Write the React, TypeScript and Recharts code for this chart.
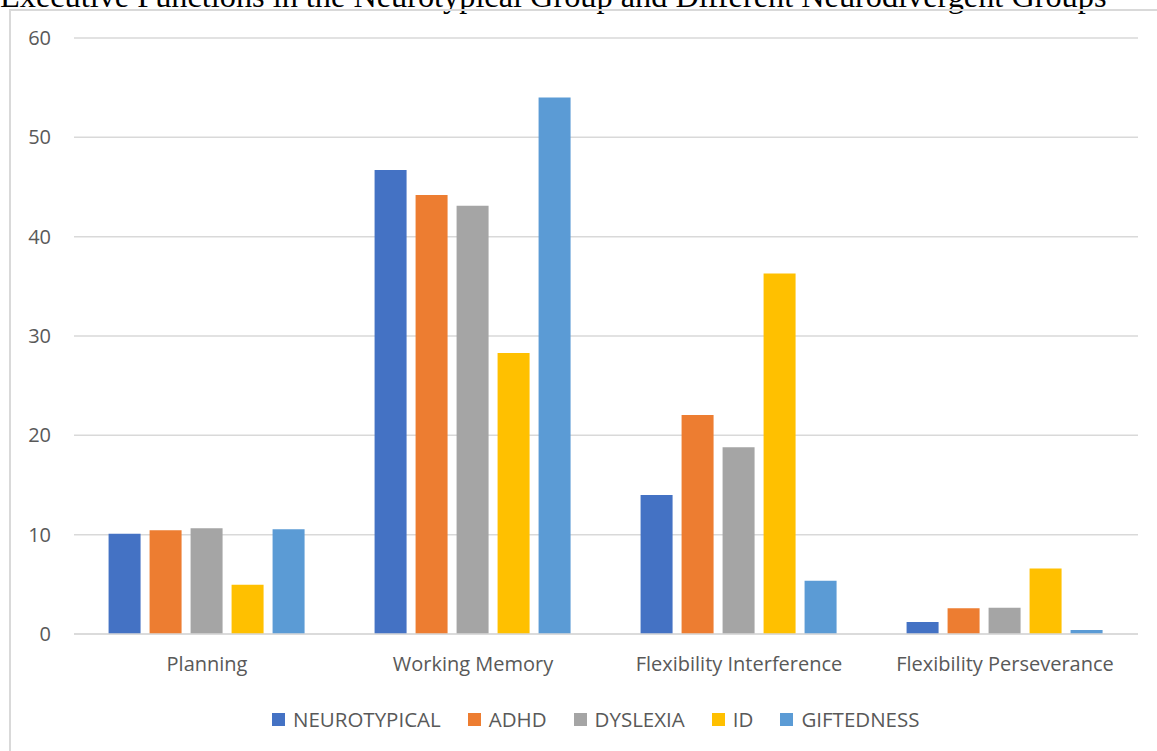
import React from 'react';
import { BarChart, Bar, XAxis, YAxis, CartesianGrid, Legend } from 'recharts';

const title = 'Executive Functions in the Neurotypical Group and Different Neurodivergent Groups';

const categories = ['Planning', 'Working Memory', 'Flexibility Interference', 'Flexibility Perseverance'];

const neurotypical = [10.1, 46.7, 14.0, 1.2];
const adhd = [10.45, 44.2, 22.05, 2.6];
const dyslexia = [10.65, 43.1, 18.8, 2.65];
const id = [4.95, 28.3, 36.3, 6.6];
const giftedness = [10.55, 54.0, 5.35, 0.4];

const yTicks = [0, 10, 20, 30, 40, 50, 60];

const series = [
  { key: 'NEUROTYPICAL', values: neurotypical, color: '#4472C4' },
  { key: 'ADHD', values: adhd, color: '#ED7D31' },
  { key: 'DYSLEXIA', values: dyslexia, color: '#A5A5A5' },
  { key: 'ID', values: id, color: '#FFC000' },
  { key: 'GIFTEDNESS', values: giftedness, color: '#5B9BD5' },
];

const data = categories.map((name, i) => {
  const row: Record<string, string | number> = { name };
  series.forEach((s) => {
    row[s.key] = s.values[i];
  });
  return row;
});

const textColor = '#595959';
const gridColor = '#D9D9D9';
const font = '"Open Sans", "Noto Sans", sans-serif';

const LegendContent = () => (
  <div
    style={{
      display: 'flex',
      alignItems: 'center',
      height: 30,
      paddingLeft: 262,
      fontFamily: font,
      fontSize: 20.5,
      color: textColor,
    }}
  >
    {series.map((s) => (
      <div key={s.key} style={{ display: 'flex', alignItems: 'center', marginRight: 27 }}>
        <span style={{ width: 13, height: 13, background: s.color, marginRight: 8, display: 'inline-block' }} />
        <span>{s.key}</span>
      </div>
    ))}
  </div>
);

export default function App() {
  return (
    <div
      style={{
        position: 'fixed',
        left: 0,
        top: 0,
        width: 1157,
        height: 751,
        overflow: 'hidden',
        background: '#fff',
      }}
    >
      <svg width={1157} height={20} style={{ position: 'absolute', left: 0, top: 0 }}>
        <text x={0} y={7} fontFamily='"Liberation Serif", serif' fontSize={32.3} fill="#000">
          {title}
        </text>
      </svg>
      <div
        style={{
          position: 'absolute',
          left: 9,
          top: 9,
          width: 1170,
          height: 770,
          border: `2px solid ${gridColor}`,
          boxSizing: 'border-box',
        }}
      />
      <div style={{ position: 'absolute', left: 10, top: 10 }}>
        <BarChart
          width={1147}
          height={741}
          data={data}
          margin={{ top: 28, right: 19, bottom: 17, left: 14 }}
          barCategoryGap="13%"
          barGap={9}
        >
          <CartesianGrid vertical={false} stroke={gridColor} strokeWidth={1.5} />
          <XAxis
            dataKey="name"
            height={70}
            axisLine={{ stroke: gridColor, strokeWidth: 1.5 }}
            tickLine={false}
            tickSize={0}
            tickMargin={23}
            tick={{ fill: textColor, fontSize: 20, fontFamily: font }}
          />
          <YAxis
            width={50}
            domain={[0, 60]}
            ticks={yTicks}
            axisLine={false}
            tickLine={false}
            tickSize={0}
            tickMargin={23}
            tick={{ fill: textColor, fontSize: 20, fontFamily: font }}
          />
          <Legend
            verticalAlign="bottom"
            content={<LegendContent />}
            wrapperStyle={{ left: 0, width: 1147 }}
          />
          {series.map((s) => (
            <Bar key={s.key} dataKey={s.key} fill={s.color} isAnimationActive={false} />
          ))}
        </BarChart>
      </div>
    </div>
  );
}
